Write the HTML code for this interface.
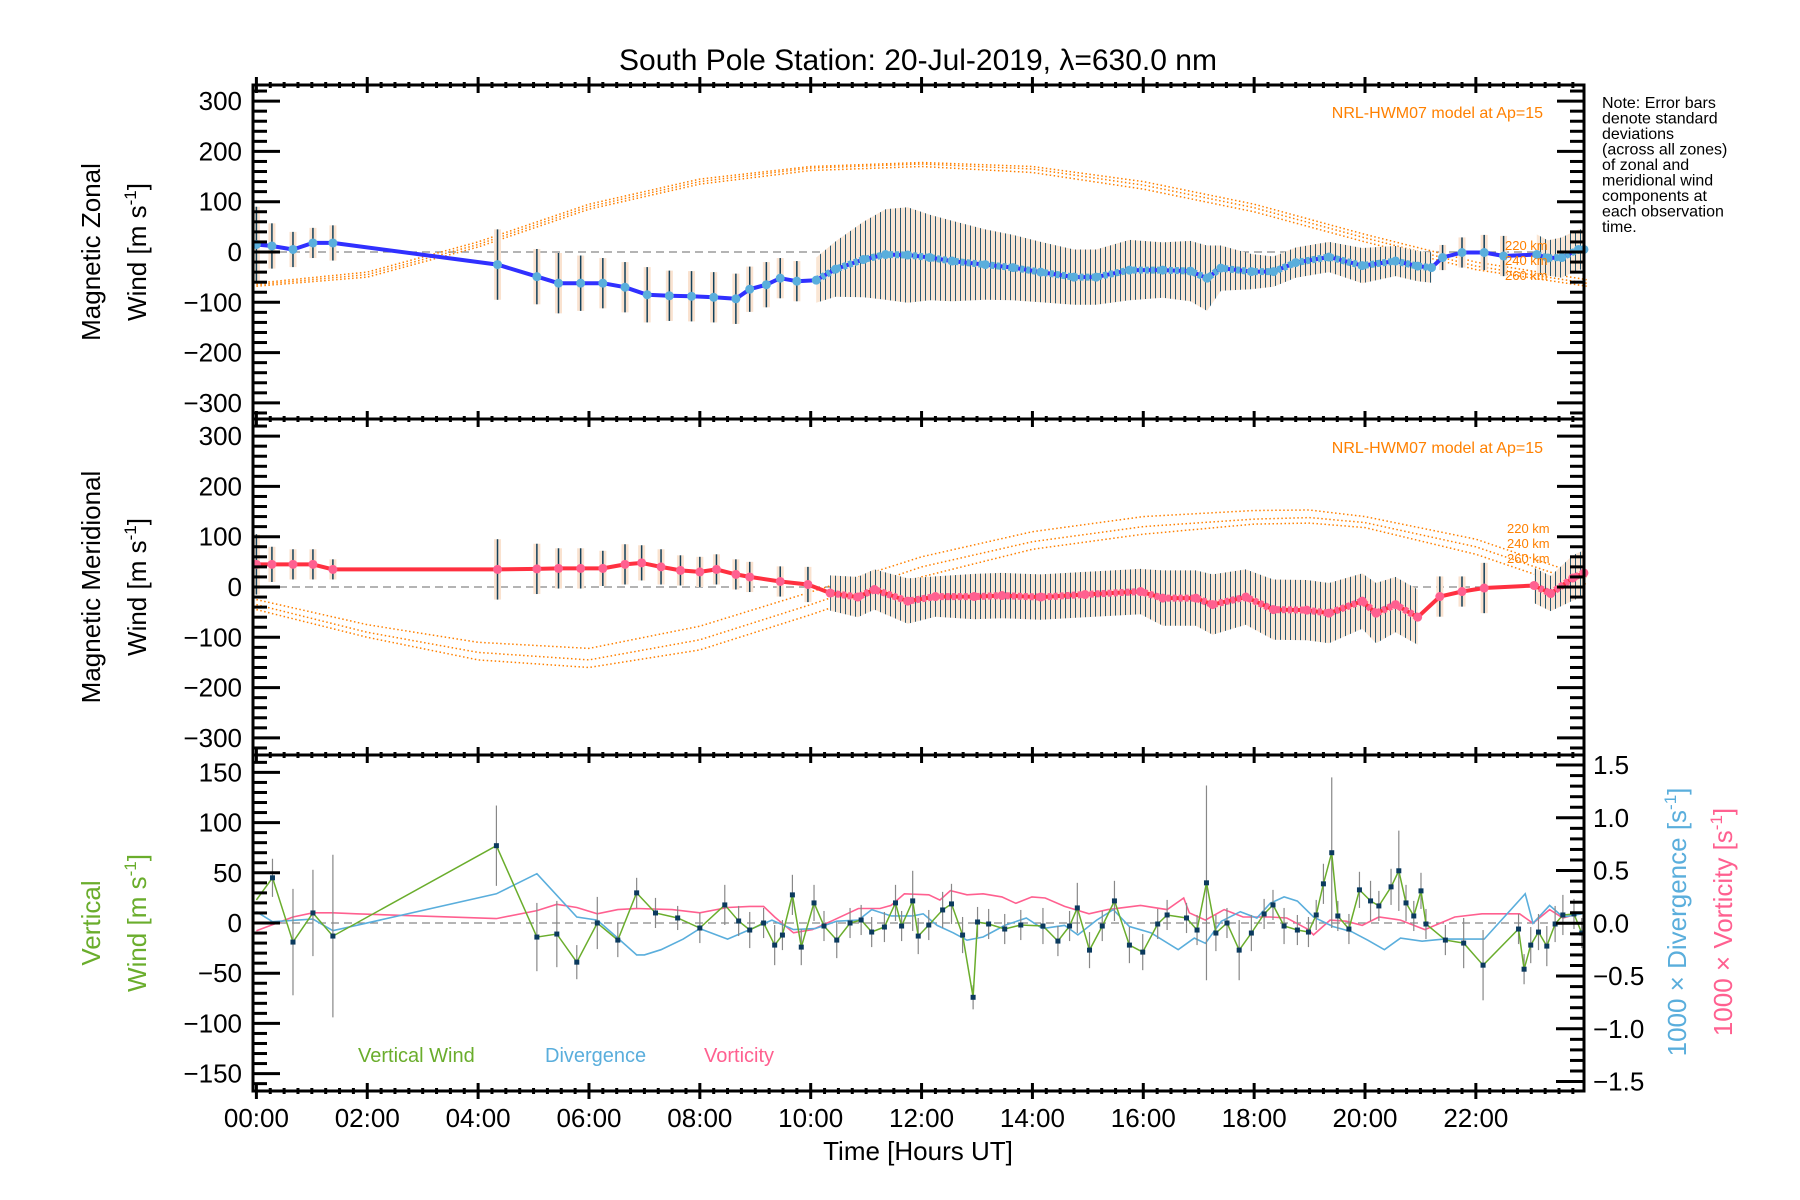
<!DOCTYPE html>
<html><head><meta charset="utf-8">
<style>
html,body{margin:0;padding:0;background:#fff;}
svg{display:block;font-family:"Liberation Sans",sans-serif;}
</style></head>
<body>
<svg id="chart" xmlns="http://www.w3.org/2000/svg" width="1800" height="1200" viewBox="0 0 1800 1200">
<defs>
<pattern id="stripes" patternUnits="userSpaceOnUse" width="5" height="10">
<rect x="0" y="0" width="5" height="10" fill="#fae6d4"/>
<rect x="0" y="0" width="1" height="10" fill="#2a5870"/>
</pattern>
</defs>
<text x="918" y="70" font-size="30" text-anchor="middle">South Pole Station: 20-Jul-2019, λ=630.0 nm</text>
<g font-size="16" fill="#000">
<text x="1602" y="108">Note: Error bars</text>
<text x="1602" y="123.5">denote standard</text>
<text x="1602" y="139">deviations</text>
<text x="1602" y="154.5">(across all zones)</text>
<text x="1602" y="170">of zonal and</text>
<text x="1602" y="185.5">meridional wind</text>
<text x="1602" y="201">components at</text>
<text x="1602" y="216.5">each observation</text>
<text x="1602" y="232">time.</text>
</g>
<g id="layer"></g>
<text x="918" y="1160" font-size="26" text-anchor="middle">Time [Hours UT]</text>
<g font-size="26" text-anchor="middle">
<text transform="translate(100,252) rotate(-90)">Magnetic Zonal</text>
<text transform="translate(146,252) rotate(-90)">Wind [m s<tspan dy="-10" font-size="17">-1</tspan><tspan dy="10">]</tspan></text>
</g>
<g font-size="26" text-anchor="middle">
<text transform="translate(100,587) rotate(-90)">Magnetic Meridional</text>
<text transform="translate(146,587) rotate(-90)">Wind [m s<tspan dy="-10" font-size="17">-1</tspan><tspan dy="10">]</tspan></text>
</g>
<g font-size="26" text-anchor="middle" fill="#6aad2c">
<text transform="translate(100,923) rotate(-90)">Vertical</text>
<text transform="translate(146,923) rotate(-90)">Wind [m s<tspan dy="-10" font-size="17">-1</tspan><tspan dy="10">]</tspan></text>
</g>
<text transform="translate(1686,922) rotate(-90)" font-size="26" text-anchor="middle" fill="#5aaedc">1000 × Divergence [s<tspan dy="-10" font-size="17">-1</tspan><tspan dy="10">]</tspan></text>
<text transform="translate(1732,922) rotate(-90)" font-size="26" text-anchor="middle" fill="#ff6090">1000 × Vorticity [s<tspan dy="-10" font-size="17">-1</tspan><tspan dy="10">]</tspan></text>
<text x="358" y="1062" font-size="20" fill="#6aad2c">Vertical Wind</text>
<text x="545" y="1062" font-size="20" fill="#5aaedc">Divergence</text>
<text x="704" y="1062" font-size="20" fill="#ff6090">Vorticity</text>
<text x="1543" y="118" font-size="16" fill="#ff8000" text-anchor="end">NRL-HWM07 model at Ap=15</text>
<text x="1543" y="453" font-size="16" fill="#ff8000" text-anchor="end">NRL-HWM07 model at Ap=15</text>
<g font-size="13" fill="#ff8000">
<text x="1505" y="250">220 km</text><text x="1505" y="265">240 km</text><text x="1505" y="280">260 km</text>
</g>
<g font-size="13" fill="#ff8000">
<text x="1507" y="533">220 km</text><text x="1507" y="548">240 km</text><text x="1507" y="563">260 km</text>
</g>
</svg>
<script>
// ---- data ----
const zonalTimes=[0.0,0.28,0.66,1.02,1.38,4.35,5.06,5.45,5.85,6.25,6.65,7.05,7.45,7.85,8.25,8.65,8.9,9.2,9.45,9.75,10.1,10.45,10.95,11.35,11.75,12.15,12.55,13.15,13.65,14.15,14.75,15.15,15.75,16.35,16.85,17.15,17.4,17.95,18.35,18.75,19.35,19.95,20.55,20.95,21.2,21.4,21.75,22.15,22.5,23.1,23.3,23.55,23.85,23.95];
const zonalWind=[15,12,5,18,18,-25,-49,-62,-62,-62,-70,-85,-87,-88,-90,-93,-74,-65,-52,-58,-56,-34,-15,-5,-6,-11,-18,-25,-31,-40,-50,-50,-36,-36,-38,-52,-32,-39,-39,-21,-10,-27,-18,-28,-31,-11,-1,-1,-8,-5,-12,-11,5,5];
const zonalStd=[75,45,35,30,35,70,55,60,55,50,50,55,50,50,50,50,45,45,40,40,45,55,75,90,95,85,80,70,65,60,55,55,60,55,60,65,45,35,30,30,30,35,30,30,30,25,30,35,40,40,35,40,40,40];
const merTimes=[0.0,0.28,0.66,1.02,1.38,4.35,5.06,5.45,5.85,6.25,6.65,6.95,7.3,7.65,8.0,8.3,8.65,8.9,9.45,9.95,10.35,10.85,11.15,11.75,12.25,12.95,13.45,14.15,14.95,15.95,16.35,16.95,17.25,17.85,18.35,18.95,19.35,19.95,20.2,20.55,20.95,21.35,21.75,22.15,23.05,23.35,23.75,23.95];
const merWind=[45,45,45,45,35,35,36,37,37,37,45,48,40,33,30,35,25,20,11,5,-12,-20,-5,-28,-19,-19,-17,-20,-15,-9,-22,-22,-35,-20,-45,-46,-52,-28,-52,-35,-60,-19,-9,-2,3,-13,18,28];
const merStd=[60,35,30,30,20,60,50,40,40,35,40,35,35,30,30,30,30,30,30,35,35,40,40,45,40,45,45,45,45,45,55,55,60,55,60,60,60,55,60,55,55,40,30,50,35,35,45,45];
const denseRanges=[[10.0,21.3],[22.8,23.95]];
const modelTimes=[0,2,4,6,8,10,12,14,16,18,20,22,24];
const zonal220=[-62,-40,20,95,145,170,178,170,140,95,35,-20,-55];
const zonal240=[-65,-45,15,90,140,167,175,165,133,88,28,-28,-62];
const zonal260=[-68,-50,10,85,135,162,170,158,125,80,20,-35,-68];
const merModelTimes=[0,2,4,6,8,10,12,14,16,18,19,20,22,24];
const mer220=[-25,-75,-110,-122,-78,-10,60,110,140,152,153,140,95,20];
const mer240=[-35,-90,-130,-145,-105,-35,40,90,120,135,138,128,80,5];
const mer260=[-45,-100,-145,-160,-125,-55,20,75,105,125,127,118,65,-10];
const vertTimes=[0.0,0.29,0.66,1.02,1.38,4.33,5.06,5.42,5.78,6.15,6.52,6.86,7.2,7.6,8.0,8.45,8.7,8.9,9.15,9.35,9.49,9.67,9.83,10.06,10.24,10.47,10.71,10.91,11.1,11.33,11.53,11.64,11.84,11.94,12.13,12.38,12.54,12.74,12.93,13.01,13.21,13.5,13.79,14.19,14.46,14.67,14.81,15.03,15.26,15.48,15.75,15.99,16.26,16.43,16.78,16.97,17.14,17.31,17.51,17.73,17.95,18.18,18.34,18.54,18.78,18.98,19.12,19.25,19.4,19.51,19.71,19.9,20.1,20.25,20.47,20.61,20.74,20.88,21.01,21.1,21.45,21.78,22.13,22.77,22.87,22.99,23.13,23.28,23.43,23.57,23.77,23.91];
const vertWind=[23,45,-19,10,-13,77,-14,-11,-39,0,-17,30,10,5,-5,18,2,-7,0,-22,-12,28,-24,20,-3,-17,0,3,-9,-4,20,-3,22,-13,-2,13,19,-12,-74,1,-1,-6,-2,-3,-18,-3,15,-27,-3,22,-22,-29,-1,8,5,-7,40,-10,0,-27,-10,9,18,-3,-7,-9,8,39,70,7,-6,33,22,17,36,52,20,7,32,-1,-17,-20,-42,-6,-46,-22,-9,-23,-1,8,9,-10];
const vertErr=[0,19,53,43,81,40,34,33,17,26,17,15,15,12,15,20,15,18,15,20,15,20,18,18,15,18,15,15,15,15,18,15,30,18,15,18,20,18,12,15,15,15,15,18,15,15,25,18,15,20,18,18,15,15,15,15,97,18,15,30,18,15,15,18,15,15,15,20,75,15,15,18,20,15,18,40,18,15,18,15,15,25,35,15,15,18,18,20,18,20,15,15];
const divTimes=[0.0,0.29,1.02,1.38,4.33,5.06,5.78,6.15,6.52,6.86,7.0,7.3,7.7,8.0,8.5,8.9,9.3,9.69,10.08,10.47,10.86,11.1,11.45,11.84,12.03,12.28,12.57,12.82,13.11,13.5,13.89,14.18,14.58,14.82,15.16,15.46,15.75,16.14,16.63,16.92,17.12,17.41,17.75,18.05,18.29,18.54,18.78,19.07,19.42,19.76,20.05,20.35,20.64,21.03,21.42,22.15,22.89,23.03,23.33,23.57,23.91];
const divergence=[0.11,0.015,0.04,-0.07,0.28,0.47,0.06,0.03,-0.14,-0.3,-0.3,-0.25,-0.15,-0.05,-0.15,-0.06,0.03,-0.06,-0.05,0.02,0.03,0.13,0.07,0.07,0.09,-0.02,-0.09,-0.16,-0.13,-0.02,0.05,-0.05,-0.02,-0.11,0.03,0.13,-0.03,-0.09,-0.25,-0.14,-0.19,0.02,0.11,0.05,0.19,0.25,0.21,0.06,-0.03,-0.08,-0.16,-0.25,-0.14,-0.17,-0.15,-0.15,0.28,0.0,0.17,0.06,0.09];
const vortTimes=[0.0,0.66,1.02,1.38,1.8,4.33,5.06,5.42,5.78,6.15,6.52,6.86,7.5,8.0,8.5,8.9,9.15,9.35,9.69,10.03,10.37,10.86,11.25,11.45,11.69,12.13,12.33,12.52,12.82,13.11,13.45,13.7,13.99,14.23,14.58,15.02,15.36,15.95,16.43,16.73,16.83,17.12,17.46,17.8,18.29,18.59,18.98,19.07,19.37,19.66,19.95,20.25,20.64,21.08,21.62,22.11,22.79,23.03,23.33,23.57,23.91];
const vorticity=[-0.07,0.06,0.1,0.1,0.09,0.045,0.12,0.18,0.15,0.09,0.13,0.14,0.13,0.1,0.15,0.16,0.16,0.06,-0.09,-0.06,0.02,0.14,0.14,0.17,0.28,0.27,0.22,0.31,0.27,0.28,0.25,0.19,0.25,0.24,0.16,0.09,0.13,0.17,0.13,0.24,0.1,0.03,0.13,0.06,0.06,0.05,-0.06,-0.11,0.03,0.02,-0.02,0.06,0.03,-0.06,0.06,0.09,0.09,0.0,0.13,0.05,0.1];
const zonalTicks=[-300,-200,-100,0,100,200,300];
const vertTicks=[-150,-100,-50,0,50,100,150];
const rightTicks=[-1.5,-1.0,-0.5,0.0,0.5,1.0,1.5];
const hourTicks=[0,2,4,6,8,10,12,14,16,18,20,22];
const hourLabels=["00:00","02:00","04:00","06:00","08:00","10:00","12:00","14:00","16:00","18:00","20:00","22:00"];

// ---- scales ----
const X0=256.4, XS=55.43, XL=253, XR=1584;
const xp=t=>X0+XS*t;
const P1={top:85,bot:419,zero:252,k:0.503,max:332};
const P2={top:419,bot:755,zero:587,k:0.503,max:332};
const P3={top:755,bot:1091,zero:923,k:1.004,max:167};
const yP=(P,v)=>P.zero-P.k*v;
const yR=v=>923.3-105.5*v;
const NS='http://www.w3.org/2000/svg';
const layer=document.getElementById('layer');
function mk(tag,attrs,parent){const e=document.createElementNS(NS,tag);for(const k in attrs)e.setAttribute(k,attrs[k]);(parent||layer).appendChild(e);return e;}
function grp(name){const g=document.createElementNS(NS,'g');layer.appendChild(g);


return g;}
function ptsStr(ts,vs,f){return ts.map((t,i)=>xp(t).toFixed(1)+','+f(vs[i]).toFixed(1)).join(' ');}
const inDense=t=>denseRanges.some(r=>t>=r[0]-0.01&&t<=r[1]+0.01);

function windPanel(P,name,times,vals,std,lineCol,dotCol,mTimes,models){
  const g=grp(name+'-panel');
  const z=mk('line',{x1:XL,x2:XR,y1:P.zero,y2:P.zero,stroke:'#888','stroke-width':1.3,'stroke-dasharray':'8 5'},g);
  
  
  models.forEach((m,mi)=>{
    const pl=mk('polyline',{points:ptsStr(mTimes,m,v=>yP(P,v)),fill:'none',stroke:'#ff8000','stroke-width':1.5,'stroke-dasharray':'1.5 2.5'},g);
    
    
  });
  denseRanges.forEach(r=>{
    const idx=times.map((t,i)=>i).filter(i=>times[i]>=r[0]-0.01&&times[i]<=r[1]+0.01);
    if(idx.length<2)return;
    const up=idx.map(i=>xp(times[i]).toFixed(1)+','+yP(P,vals[i]+std[i]).toFixed(1));
    const dn=idx.slice().reverse().map(i=>xp(times[i]).toFixed(1)+','+yP(P,vals[i]-std[i]).toFixed(1));
    const b=mk('polygon',{points:up.concat(dn).join(' '),fill:'url(#stripes)'},g);
    
    
  });
  times.forEach((t,i)=>{
    if(inDense(t))return;
    const x=xp(t);
    const r=mk('rect',{x:x-3.5,y:yP(P,vals[i]+std[i]),width:7,height:2*P.k*std[i],fill:'#fae2cf'},g);
    
    
    const l=mk('line',{x1:x,x2:x,y1:yP(P,vals[i]+std[i]),y2:yP(P,vals[i]-std[i]),stroke:'#12405a','stroke-width':1.5},g);
    
    
  });
  const ml=mk('polyline',{points:ptsStr(times,vals,v=>yP(P,v)),fill:'none',stroke:lineCol,'stroke-width':4,'stroke-linejoin':'round'},g);
  
  
  times.forEach((t,i)=>{
    const c=mk('circle',{cx:xp(t),cy:yP(P,vals[i]),r:4.5,fill:dotCol},g);
    
    
  });
  denseRanges.forEach(r=>{
    const idx=times.map((t,i)=>i).filter(i=>times[i]>=r[0]-0.01&&times[i]<=r[1]+0.01);
    if(idx.length<2)return;
    const pl=mk('polyline',{points:idx.map(i=>xp(times[i]).toFixed(1)+','+yP(P,vals[i]).toFixed(1)).join(' '),fill:'none',stroke:dotCol,'stroke-width':7,'stroke-linejoin':'round','stroke-dasharray':'4 2'},g);
    
    
  });
}
windPanel(P1,'zonal',zonalTimes,zonalWind,zonalStd,'#3030ff','#5aaedc',modelTimes,[zonal220,zonal240,zonal260]);
windPanel(P2,'meridional',merTimes,merWind,merStd,'#ff3040','#ff6090',merModelTimes,[mer220,mer240,mer260]);

(function(){
  const g=grp('vertical-panel');
  const z=mk('line',{x1:XL,x2:XR,y1:P3.zero,y2:P3.zero,stroke:'#888','stroke-width':1.3,'stroke-dasharray':'8 5'},g);
  
  
  const vo=mk('polyline',{points:ptsStr(vortTimes,vorticity,yR),fill:'none',stroke:'#ff6090','stroke-width':1.6},g);
  
  
  const dv=mk('polyline',{points:ptsStr(divTimes,divergence,yR),fill:'none',stroke:'#5aaedc','stroke-width':1.6},g);
  
  
  vertTimes.forEach((t,i)=>{
    if(!vertErr[i])return;
    const l=mk('line',{x1:xp(t),x2:xp(t),y1:yP(P3,vertWind[i]+vertErr[i]),y2:yP(P3,vertWind[i]-vertErr[i]),stroke:'#888','stroke-width':1.2},g);
    
    
  });
  const vw=mk('polyline',{points:ptsStr(vertTimes,vertWind,v=>yP(P3,v)),fill:'none',stroke:'#6aad2c','stroke-width':1.5},g);
  
  
  vertTimes.forEach((t,i)=>{
    if(!vertErr[i])return;
    const r=mk('rect',{x:xp(t)-2.5,y:yP(P3,vertWind[i])-2.5,width:5,height:5,fill:'#0b3a5e'},g);
    
    
  });
})();

(function(){
  const g=grp('axes');
  [P1,P2,P3].forEach(P=>{
    const f=mk('rect',{x:XL,y:P.top,width:XR-XL,height:P.bot-P.top,fill:'none',stroke:'#000','stroke-width':3},g);
    
    
  });
  [[P1,20,100,zonalTicks],[P2,20,100,zonalTicks],[P3,10,50,vertTicks]].forEach(([P,minor,major,labels])=>{
    for(let v=-Math.floor(P.max/minor)*minor;v<=P.max;v+=minor){
      const y=yP(P,v); if(y<P.top+2||y>P.bot-2)continue;
      const isMaj=Math.abs(v%major)<1e-6;
      const l=mk('line',{x1:XL,x2:XL+(isMaj?27:14),y1:y,y2:y,stroke:'#000','stroke-width':3},g);
      
      
      if(P!==P3){
        const r=mk('line',{x1:XR,x2:XR-(isMaj?27:14),y1:y,y2:y,stroke:'#000','stroke-width':3},g);
        
        
      }
    }
    labels.forEach(v=>{
      const t=mk('text',{x:242,y:yP(P,v)+9,'font-size':26,'text-anchor':'end'},g);
      t.textContent=(v<0?'\u2212':'')+Math.abs(v);
      
      
    });
  });
  for(let k=-15;k<=15;k++){
    const v=k/10,y=yR(v); if(y<P3.top+2||y>P3.bot-2)continue;
    const isMaj=(k%5===0);
    const l=mk('line',{x1:XR,x2:XR-(isMaj?28:14),y1:y,y2:y,stroke:'#000','stroke-width':3},g);
    
    
  }
  rightTicks.forEach(v=>{
    const t=mk('text',{x:1593,y:yR(v)+9,'font-size':26},g);
    t.textContent=(v<0?'\u2212':'')+Math.abs(v).toFixed(1);
    
    
  });
  [85,419,755,1091].forEach(yb=>{
    for(let m=0;m<24*4;m++){
      const t=m/4,x=xp(t); if(x<=XL+2||x>=XR-2)continue;
      const isMaj=(m%8===0);
      const l=mk('line',{x1:x,x2:x,y1:yb-(isMaj?8:3),y2:yb+(isMaj?8:3),stroke:'#000','stroke-width':3},g);
      
      
    }
  });
  hourTicks.forEach((h,i)=>{
    const t=mk('text',{x:xp(h),y:1127,'font-size':26,'text-anchor':'middle'},g);
    t.textContent=hourLabels[i];
    
    
  });
})();
</script>
</body></html>
